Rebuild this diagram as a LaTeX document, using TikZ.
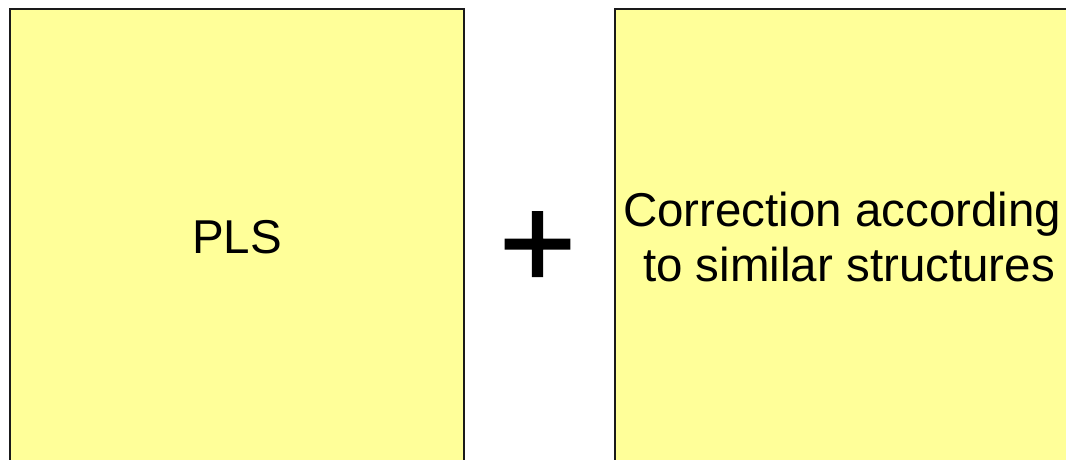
\documentclass[tikz,border=0pt]{standalone}
\usepackage{fontspec}
\setmainfont{Liberation Sans}
\newfontfamily\plusfont[FakeBold=1.2]{Liberation Sans}
\usepackage{tikz}
\usetikzlibrary{positioning}

\definecolor{padyellow}{HTML}{FFFF99}
\definecolor{padedge}{HTML}{1A1A1A}

\tikzset{
	padbox/.style={draw=padedge, line width=2.8pt, fill=padyellow, minimum width=454pt, minimum height=456pt, inner sep=0pt, align=center, font=\fontsize{47.5}{55}\selectfont},
	plussign/.style={inner sep=0pt, font=\plusfont\fontsize{132}{132}\selectfont}
}

\begin{document}
\begin{tikzpicture}[x=1pt, y=-1pt]
		\useasboundingbox (0,0) rectangle (1066,460);
		\node[padbox] (pls) at (237,237) {PLS};
		\node[padbox] (corr) at (842,237) {};
		\node[align=center, inner sep=0pt, font=\fontsize{47.5}{55}\selectfont] (corrtext) at (849,237) {Correction according\hspace*{.28em}\\to similar structures};
		\node[plussign, anchor=base] (plus) at (537.5,288) {+};
	\end{tikzpicture}
\end{document}
